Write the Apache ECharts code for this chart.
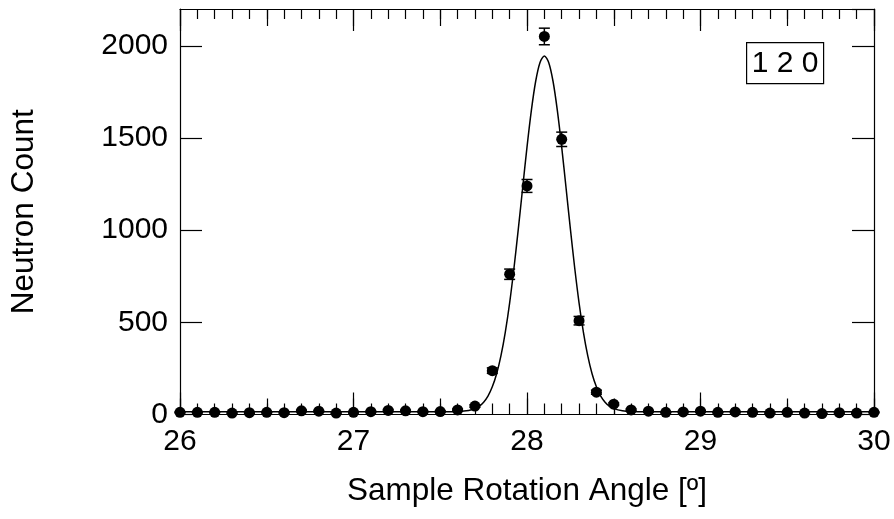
<!DOCTYPE html>
<html><head><meta charset="utf-8">
<script src="https://cdn.jsdelivr.net/npm/echarts@6/dist/echarts.min.js"></script>
<style>html,body{margin:0;padding:0;background:#fff}#c{width:894px;height:519px}</style>
</head><body><div id="c"></div>
<script>
// measured points (rotation angle, neutron count, error)
const angles = [26.0,26.1,26.2,26.3,26.4,26.5,26.6,26.7,26.8,26.9,
                27.0,27.1,27.2,27.3,27.4,27.5,27.6,27.7,27.8,27.9,
                28.0,28.1,28.2,28.3,28.4,28.5,28.6,28.7,28.8,28.9,
                29.0,29.1,29.2,29.3,29.4,29.5,29.6,29.7,29.8,29.9,30.0];
const counts = [12,12,12,8,10,12,10,20,18,8,
                12,15,22,20,15,16,25,46,238,761,
                1240,2051,1493,509,121,56,25,18,12,14,
                18,12,14,12,8,12,8,5,10,8,12];
const errors = [3,3,3,3,3,3,3,4,4,3,
                3,4,5,4,4,4,5,7,15,28,
                35,45,39,23,11,7,5,4,3,4,
                4,3,4,3,3,3,3,2,3,3,3];
// fitted curve
const fitAngles = [26.0,27.4,27.5,27.55,27.6,27.65,27.675,27.7,27.725,27.75,27.775,27.8,27.825,27.85,27.875,
                   27.9,27.925,27.95,27.975,28.0,28.025,28.05,28.075,28.1,28.125,28.15,28.175,28.2,
                   28.225,28.25,28.275,28.3,28.325,28.35,28.375,28.4,28.425,28.45,28.475,28.5,28.55,28.6,28.7,30.0];
const fitCounts = [15,15,15,15,16,20,24,32,45,67,100,150,221,319,447,
                   606,795,1007,1230,1451,1649,1808,1910,1945,1910,1808,1649,1451,
                   1230,1007,795,606,447,319,221,150,100,67,45,32,20,16,15,15];
const xLabelName = 'Sample Rotation Angle [º]';
const yLabelName = 'Neutron Count';
const peakLabel = '1 2 0';

const FONT = 'Liberation Sans, Arial, sans-serif';
const black = '#000';
const ls = {color: black, width: 1.2};

const points = angles.map((a, i) => [a, counts[i]]);
const bars = angles.map((a, i) => [a, counts[i] - errors[i], counts[i] + errors[i]]);
const fit = fitAngles.map((a, i) => [a, fitCounts[i]]);

const chart = echarts.init(document.getElementById('c'), null, {renderer: 'canvas'});
const baseX = {type: 'value', min: 26, max: 30, splitLine: {show: false}, axisLine: {show: false, onZero: false, lineStyle: ls}};
chart.setOption({
  animation: false,
  backgroundColor: '#fff',
  grid: {left: 180, right: 20, top: 9, bottom: 104.5, containLabel: false},
  xAxis: [
    Object.assign({}, baseX, {
      position: 'bottom', interval: 1,
      axisLine: {show: true, onZero: false, lineStyle: ls},
      axisTick: {show: true, inside: true, length: 22, lineStyle: ls},
      minorTick: {show: true, splitNumber: 10, length: 11, lineStyle: ls},
      axisLabel: {fontSize: 30, color: black, margin: 12, fontFamily: FONT},
      name: xLabelName, nameLocation: 'middle', nameGap: 61,
      nameTextStyle: {fontSize: 31.5, color: black, fontFamily: FONT}
    }),
    Object.assign({}, baseX, {
      position: 'bottom', interval: 0.5,
      axisTick: {show: true, inside: true, length: 16, lineStyle: ls},
      axisLabel: {show: false}
    }),
    Object.assign({}, baseX, {
      position: 'top', interval: 1,
      axisLine: {show: true, onZero: false, lineStyle: ls},
      axisTick: {show: true, inside: true, length: 22, lineStyle: ls},
      minorTick: {show: true, splitNumber: 10, length: 10, lineStyle: ls},
      axisLabel: {show: false}
    }),
    Object.assign({}, baseX, {
      position: 'top', interval: 0.5,
      axisTick: {show: true, inside: true, length: 17, lineStyle: ls},
      axisLabel: {show: false}
    })
  ],
  yAxis: [
    {type: 'value', min: 0, max: 2200, interval: 500, position: 'left',
     splitLine: {show: false},
     axisLine: {show: true, onZero: false, lineStyle: ls},
     axisTick: {show: true, inside: true, length: 22, lineStyle: ls},
     axisLabel: {fontSize: 30, color: black, margin: 12, fontFamily: FONT, showMaxLabel: false,
                 formatter: v => String(v)},
     name: yLabelName, nameLocation: 'middle', nameGap: 140,
     nameTextStyle: {fontSize: 31.5, color: black, fontFamily: FONT}},
    {type: 'value', min: 0, max: 2200, interval: 500, position: 'right',
     splitLine: {show: false},
     axisLine: {show: true, onZero: false, lineStyle: ls},
     axisTick: {show: true, inside: true, length: 22, lineStyle: ls},
     axisLabel: {show: false}}
  ],
  series: [
    {type: 'line', data: fit, xAxisIndex: 0, yAxisIndex: 0, showSymbol: false, smooth: 0.3,
     lineStyle: {color: black, width: 1.5}, z: 2, silent: true},
    {type: 'custom', data: bars, xAxisIndex: 0, yAxisIndex: 0, z: 3, silent: true,
     renderItem: function (params, api) {
       const x = api.value(0);
       const lo = api.coord([x, api.value(1)]);
       const hi = api.coord([x, api.value(2)]);
       const w = 5.5;
       const st = {stroke: black, lineWidth: 1.5};
       return {type: 'group', children: [
         {type: 'line', shape: {x1: lo[0], y1: lo[1], x2: hi[0], y2: hi[1]}, style: st},
         {type: 'line', shape: {x1: lo[0] - w, y1: lo[1], x2: lo[0] + w, y2: lo[1]}, style: st},
         {type: 'line', shape: {x1: hi[0] - w, y1: hi[1], x2: hi[0] + w, y2: hi[1]}, style: st}
       ]};
     },
     encode: {x: 0, y: [1, 2]}},
    {type: 'scatter', data: points, xAxisIndex: 0, yAxisIndex: 0, symbol: 'circle', symbolSize: 11,
     itemStyle: {color: black, opacity: 1}, z: 4, silent: true}
  ],
  graphic: [
    {type: 'group', left: 746, top: 42, children: [
      {type: 'rect', shape: {x: 0, y: 0, width: 77, height: 41},
       style: {fill: '#fff', stroke: black, lineWidth: 1.2}},
      {type: 'text', x: 38.5, y: 21,
       style: {text: peakLabel, fontSize: 30, fontFamily: FONT, fill: black, align: 'center', verticalAlign: 'middle'}}
    ]}
  ]
});
</script>
</body></html>
